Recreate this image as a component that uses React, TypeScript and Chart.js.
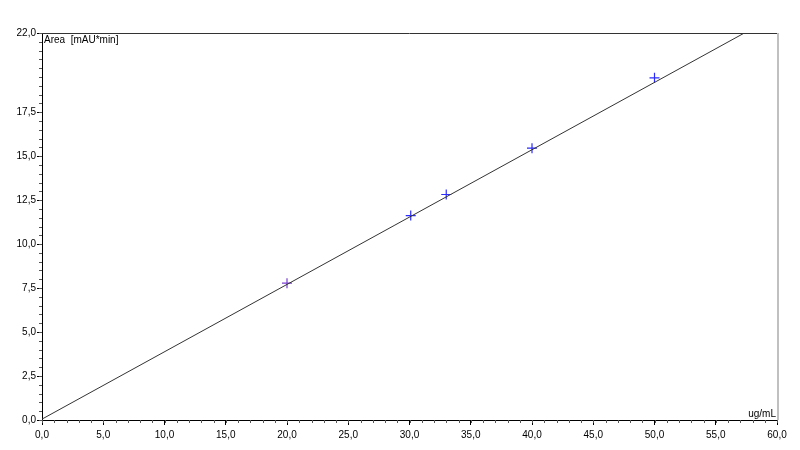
import React, { useEffect, useRef } from "react";
import { Chart, registerables } from "chart.js";

Chart.register(...registerables);

const concentrations = [20, 30.1, 33, 40, 50];
const areas = [7.78, 11.62, 12.82, 15.45, 19.45];
const pointColors = ["#7a3fd0", "#2b2bff", "#2b2bff", "#2b2bff", "#2b2bff"];
const fitX = [0, 60];
const fitY = [0.05, 23.02];
const xMajorTicks = [0, 5, 10, 15, 20, 25, 30, 35, 40, 45, 50, 55, 60];
const yMajorTicks = [0, 2.5, 5, 7.5, 10, 12.5, 15, 17.5, 22];
const xMinorStep = 1;
const yMinorStep = 0.5;
const yTitle = "Area  [mAU*min]";
const xTitle = "ug/mL";

const fmt = (v: number) => v.toFixed(1).replace(".", ",");
const FONT = "'Liberation Sans', Arial, sans-serif";

const decorPlugin = {
  id: "decor",
  afterDraw(chart: any) {
    const { ctx, chartArea, scales } = chart;
    const xs = scales.x;
    const ys = scales.y;
    ctx.save();
    ctx.strokeStyle = "#555";
    ctx.lineWidth = 1;
    for (let v = xs.min; v <= xs.max + 1e-9; v += xMinorStep) {
      const px = Math.round(xs.getPixelForValue(v)) + 0.5;
      ctx.beginPath();
      ctx.moveTo(px, chartArea.bottom);
      ctx.lineTo(px, chartArea.bottom + 3);
      ctx.stroke();
    }
    for (let v = ys.min; v <= ys.max + 1e-9; v += yMinorStep) {
      const py = Math.round(ys.getPixelForValue(v)) + 0.5;
      ctx.beginPath();
      ctx.moveTo(chartArea.left - 3, py);
      ctx.lineTo(chartArea.left, py);
      ctx.stroke();
    }
    ctx.strokeStyle = "#333";
    ctx.beginPath();
    ctx.moveTo(chartArea.left, Math.round(chartArea.top) + 0.5);
    ctx.lineTo(chartArea.right, Math.round(chartArea.top) + 0.5);
    ctx.stroke();
    ctx.strokeStyle = "#c0c0c0";
    ctx.lineWidth = 2;
    ctx.beginPath();
    ctx.moveTo(chartArea.right + 1, chartArea.top);
    ctx.lineTo(chartArea.right + 1, chartArea.bottom);
    ctx.stroke();
    ctx.fillStyle = "#000";
    ctx.font = `10px ${FONT}`;
    ctx.textBaseline = "top";
    ctx.textAlign = "left";
    ctx.fillText(yTitle, chartArea.left + 2, chartArea.top + 2);
    ctx.textAlign = "right";
    ctx.textBaseline = "bottom";
    ctx.fillText(xTitle, chartArea.right - 1, chartArea.bottom - 1);
    ctx.restore();
  },
};

export default function App() {
  const ref = useRef<HTMLCanvasElement>(null);
  useEffect(() => {
    if (!ref.current) return;
    const chart = new Chart(ref.current, {
      type: "scatter",
      data: {
        datasets: [
          {
            type: "line",
            data: fitX.map((x, i) => ({ x, y: fitY[i] })),
            borderColor: "#333",
            borderWidth: 1,
            pointRadius: 0,
            fill: false,
          } as any,
          {
            data: concentrations.map((x, i) => ({ x, y: areas[i] })),
            pointStyle: "cross",
            pointRadius: 5,
            pointBorderWidth: 1.2,
            borderColor: pointColors,
            backgroundColor: pointColors,
          } as any,
        ],
      },
      options: {
        animation: false,
        responsive: false,
        maintainAspectRatio: false,
        layout: { padding: { top: 33, right: 23, left: 0, bottom: 0 } },
        plugins: { legend: { display: false }, tooltip: { enabled: false } },
        scales: {
          x: {
            type: "linear",
            min: 0,
            max: 60,
            afterBuildTicks: (s: any) => {
              s.ticks = xMajorTicks.map((v) => ({ value: v }));
            },
            afterFit: (s: any) => {
              s.height = 30;
            },
            border: { display: true, color: "#000", width: 1 },
            grid: { drawOnChartArea: false, drawTicks: true, tickLength: 5, color: "#000" },
            ticks: {
              color: "#000",
              font: { family: FONT, size: 10 },
              padding: 4,
              maxRotation: 0,
              autoSkip: false,
              callback: (v: any) => fmt(Number(v)),
            },
          },
          y: {
            type: "linear",
            min: 0,
            max: 22,
            afterBuildTicks: (s: any) => {
              s.ticks = yMajorTicks.map((v) => ({ value: v }));
            },
            afterFit: (s: any) => {
              s.width = 42;
            },
            border: { display: true, color: "#000", width: 1 },
            grid: { drawOnChartArea: false, drawTicks: true, tickLength: 5, color: "#000" },
            ticks: {
              color: "#000",
              font: { family: FONT, size: 10 },
              padding: 1,
              autoSkip: false,
              callback: (v: any) => fmt(Number(v)),
            },
          },
        },
      },
      plugins: [decorPlugin],
    });
    return () => chart.destroy();
  }, []);
  return (
    <div style={{ position: "fixed", left: 0, top: 0, width: 800, height: 450, background: "#fff" }}>
      <canvas ref={ref} width={800} height={450} />
    </div>
  );
}
